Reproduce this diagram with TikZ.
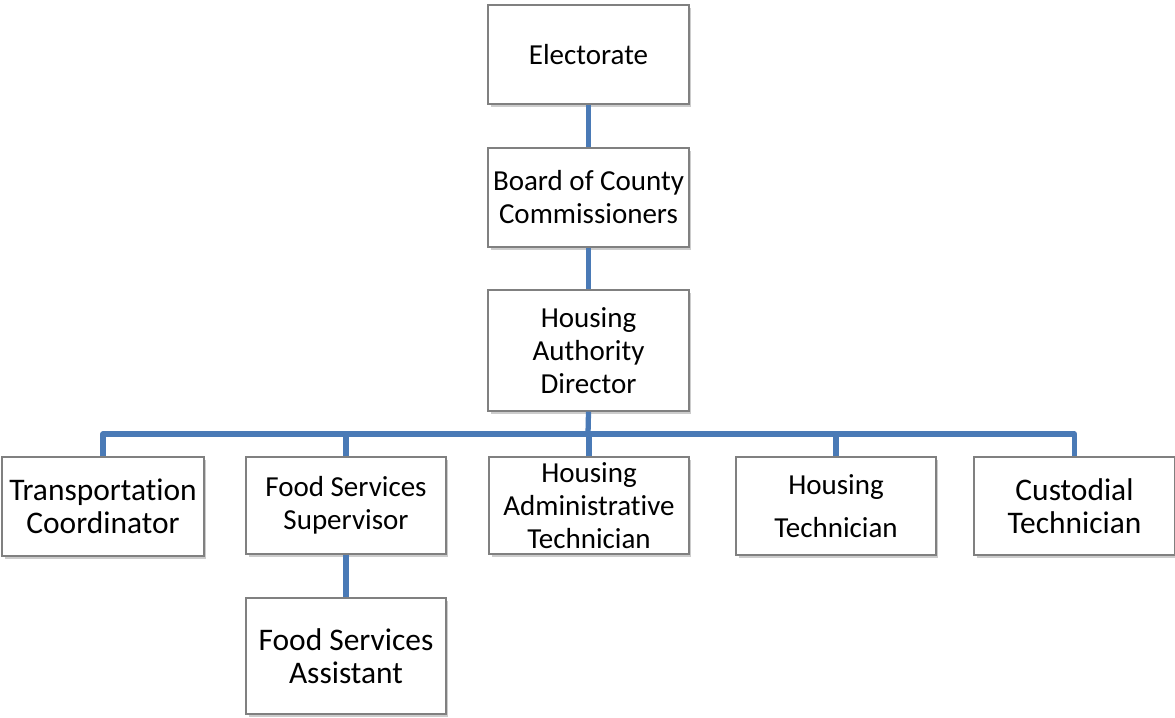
\documentclass[tikz,border=0pt]{standalone}
\usepackage{fontspec}
\setmainfont{Carlito}[RawFeature={-liga;-clig;-dlig;-calt;-rlig}]
\usetikzlibrary{shadows}

\tikzset{
  post/.style={draw=gray, line width=0.8pt, fill=white, align=center,
    minimum width=4cm, minimum height=1.98cm, inner sep=2pt,
    font=\fontsize{16.5}{18.8}\selectfont,
    drop shadow={shadow xshift=0.05cm, shadow yshift=-0.06cm, opacity=0.4, fill=gray}},
  bigpost/.style={post, font=\fontsize{17.9}{18.8}\selectfont},
  link/.style={draw={rgb,255:red,74;green,122;blue,182}, line width=3pt, line join=round}
}

\begin{document}
\begin{tikzpicture}[x=0.02cm, y=-0.02cm]
  \useasboundingbox (0,0) rectangle (1175,717);

  %===== Top of the chart =====%
  \node[post, minimum width=4.02cm] (elect) at (588.5,54.5) {Electorate};
  \node[post, minimum width=4.02cm] (board) at (588.5,197.5) {Board of County\\Commissioners};
  \node[post, minimum width=4.02cm, minimum height=2.42cm] (dir) at (588.5,350.5) {Housing\\Authority\\Director};

  % bus line below the director
  \coordinate (bus) at (588,434);

  %===== Staff row =====%
  \node[bigpost, minimum width=4.04cm] (trans) at (103,506.5) {Transportation\\Coordinator};
  \node[post, minimum height=1.94cm] (food) at (346,505.5) {Food Services\\Supervisor};
  \node[post, minimum height=1.94cm] (admin) at (589,505.5) {Housing\\Administrative\\Technician};
  \node[post, minimum height=1.96cm] (htech) at (836,506) {Housing\\[6pt]Technician};
  \node[bigpost, minimum width=4.02cm, minimum height=1.96cm] (cust) at (1074.5,506) {Custodial\\Technician};

  % under the supervisor
  \node[bigpost, minimum height=2.32cm] (assist) at (346,656) {Food Services\\Assistant};

  %===== Connectors =====%
  \draw[link] (elect) -- (board);
  \draw[link] (board) -- (dir);
  \draw[link] (dir.south) -- (bus);
  \draw[link] (trans.north) |- (bus) -| (cust.north);
  \draw[link] (food.north) -- (food.north |- bus);
  \draw[link] (admin.north) -- (admin.north |- bus);
  \draw[link] (htech.north) -- (htech.north |- bus);
  \draw[link] (food) -- (assist);
\end{tikzpicture}
\end{document}
